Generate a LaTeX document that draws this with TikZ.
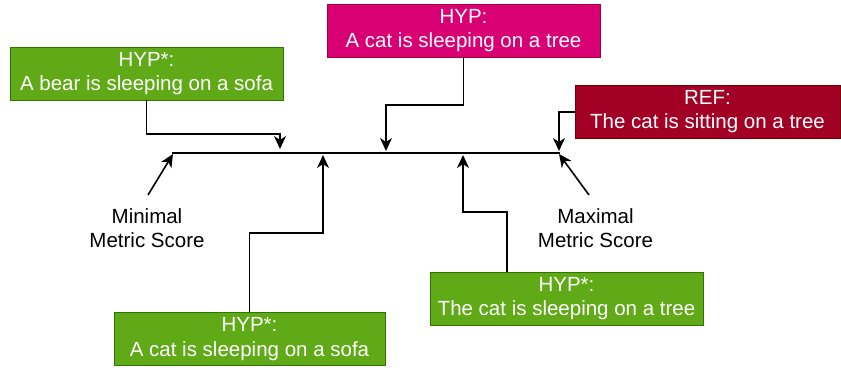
\documentclass[tikz,border=0pt]{standalone}
\usepackage{fontspec}
\setmainfont{Liberation Sans}
\usetikzlibrary{arrows.meta}
\definecolor{grn}{HTML}{60A917}
\definecolor{grnS}{HTML}{2D7600}
\definecolor{pnk}{HTML}{D80073}
\definecolor{pnkS}{HTML}{A50040}
\definecolor{red}{HTML}{A20025}
\definecolor{redS}{HTML}{6F0000}
\begin{document}
\begin{tikzpicture}[x=1pt,y=-1pt,
  box/.style={draw, line width=0.8pt, text=white, align=center, inner sep=0pt,
    font=\fontsize{20.5}{24.6}\selectfont, minimum height=53pt},
  gbox/.style={box, fill=grn, draw=grnS},
  pbox/.style={box, fill=pnk, draw=pnkS},
  rbox/.style={box, fill=red, draw=redS},
  lbl/.style={align=center, inner sep=0pt, font=\fontsize{20.5}{24.6}\selectfont},
  conn/.style={line width=1.6pt, -{Stealth[length=13pt,width=12pt,inset=4pt]}},
  axis/.style={line width=1.6pt}]
\useasboundingbox (0,0) rectangle (841,367);
% boxes
\node[gbox, minimum width=273pt] (bear) at (146.5,73.5) {HYP*:\\A bear is sleeping on a sofa};
\node[pbox, minimum width=273pt] (hyp) at (463.5,30.5) {HYP:\\A cat is sleeping on a tree};
\node[rbox, minimum width=265pt] (ref) at (707.5,111.5) {REF:\\The cat is sitting on a tree};
\node[gbox, minimum width=271pt] (sofa) at (249.5,339) {HYP*:\\A cat is sleeping on a sofa};
\node[gbox, minimum width=273pt] (tree) at (566.5,298.5) {HYP*:\\The cat is sleeping on a tree};
% labels
\node[lbl] (minl) at (147,228) {Minimal\\Metric Score};
\node[lbl] (maxl) at (595.5,228) {Maximal\\Metric Score};
% axis
\coordinate (L) at (172,153);
\coordinate (R) at (560,153);
\draw[axis] (L) -- (R);
% arrow targets
\coordinate (tBear) at (280,149);
\coordinate (tHyp) at (386,151);
\coordinate (tRef) at (559,151);
\coordinate (tSofa) at (323,155);
\coordinate (tTree) at (463,155);
\coordinate (sTree) at (507,272);
\coordinate (sRef) at (575,112);
\coordinate (sMin) at (148,195);
\coordinate (sMax) at (589,195);
% connectors
\draw[conn] (bear.south) |- (280,134) -- (tBear);
\draw[conn] (hyp.south) |- (386,105) -- (tHyp);
\draw[conn] (sRef) -| (tRef);
\draw[conn] (sofa.north) |- (323,233) -- (tSofa);
\draw[conn] (sTree) |- (463,212) -- (tTree);
\draw[conn] (sMin) -- (173,154);
\draw[conn] (sMax) -- (559,154);
\end{tikzpicture}
\end{document}
